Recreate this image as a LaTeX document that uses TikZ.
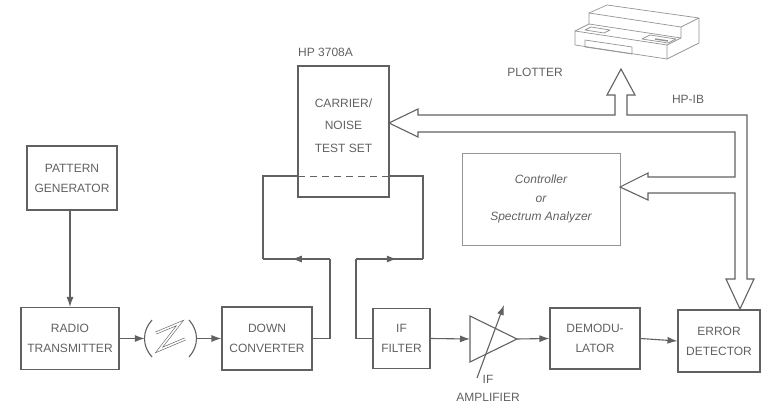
\documentclass[tikz,border=0pt]{standalone}
\usepackage{fontspec}
\setmainfont{Liberation Sans}
\usetikzlibrary{arrows.meta,decorations.markings}

\definecolor{ink}{gray}{0.38}
\definecolor{pale}{gray}{0.58}

\tikzset{
  box/.style={draw=ink, line width=1.1pt, inner sep=0pt, align=center,
    text=ink, font=\fontsize{12}{20}\selectfont},
  lbl/.style={text=ink, inner sep=0pt, align=center, font=\fontsize{12}{20}\selectfont},
  wire/.style={draw=ink, line width=1.1pt},
  sig/.style={wire, -{Latex[length=10pt,width=7pt]}},
  tipat/.style={postaction={decorate}, decoration={markings,
    mark=at position #1 with {\arrow{Latex[length=10pt,width=7pt]}}}},
}

\begin{document}
\begin{tikzpicture}[x=1pt, y=-1pt]
  \useasboundingbox (0,0) rectangle (761,406);

  % blocks
  \node[box, minimum width=90pt, minimum height=64pt] (pg) at (72,178) {PATTERN\\GENERATOR};
  \node[box, minimum width=98pt, minimum height=62pt] (rt) at (70,338.5) {RADIO\\TRANSMITTER};
  \node[minimum width=52pt, minimum height=36pt, inner sep=0pt] (ant) at (171,338.5) {};
  \node[box, minimum width=90pt, minimum height=63pt] (dc) at (267,338.5) {DOWN\\CONVERTER};
  \node[box, minimum width=57pt, minimum height=60pt] (iff) at (401.5,338.5) {IF\\FILTER};
  \node[box, minimum width=90pt, minimum height=61pt] (dem) at (595,338.5) {DEMODU-\\LATOR};
  \node[box, minimum width=82pt, minimum height=62pt] (ed) at (719,341) {ERROR\\DETECTOR};

  % carrier/noise test set
  \node[box, minimum width=91pt, minimum height=131pt] (cn) at (343.5,131.5) {};
  \node[lbl, font=\fontsize{12}{22.5}\selectfont] at (343.5,125.5) {CARRIER/\\NOISE\\TEST SET};
  \node[lbl, anchor=west] at (298,52) {HP 3708A};
  \coordinate (cnin) at (298,176);
  \coordinate (cnout) at (389,176);
  \draw[ink, line width=0.9pt, dash pattern=on 7pt off 5pt] (cnin) -- (cnout);

  % controller
  \node[draw=pale, line width=0.6pt, minimum width=158pt, minimum height=92pt,
    align=center, text=ink, font=\fontsize{12}{18.5}\selectfont\itshape] (ctl) at (541,199)
    {Controller\\or\\Spectrum Analyzer};

  % antenna hop
  \draw[wire] (152,320) .. controls (142,331) and (142,346) .. (152,357);
  \draw[wire] (189,320) .. controls (199,331) and (199,346) .. (189,357);
  \draw[draw=ink, line width=0.6pt, double=white, double distance=1.6pt, line join=miter]
    (156,333) -- (180,323) -- (159,350) -- (185,339);

  % IF amplifier
  \coordinate (ampin) at (470,339);
  \coordinate (ampout) at (517,339);
  \draw[wire, line join=miter] (470,316) -- (ampout) -- (470,362) -- cycle;
  \draw[sig] (477,378) -- (504,305);
  \node[lbl, font=\fontsize{12}{18}\selectfont] at (488,388) {IF\\AMPLIFIER};

  % signal path
  \draw[sig] (rt.north |- pg.south) -- (rt.north);
  \draw[sig] (rt.east) -- (ant.west);
  \draw[sig] (ant.east) -- (dc.west);
  \coordinate (la) at (330,259);
  \coordinate (lb) at (263,259);
  \coordinate (ra) at (423,259);
  \coordinate (rb) at (356,259);
  \draw[wire] (dc.east) -| (la);
  \draw[wire, tipat=0.57] (la) -- (lb);
  \draw[wire] (lb) |- (cnin);
  \draw[wire] (cnout) -| (ra);
  \draw[wire, tipat=0.61] (rb) -- (ra);
  \draw[wire] (rb) |- (iff.west);
  \draw[sig] (iff.east) -- (ampin);
  \draw[sig] (ampout) -- (dem.west);
  \draw[sig] (dem.east) -- (ed.west);

  % HP-IB bus
  \draw[wire, fill=white, line join=miter]
    (418,109) -- (418,115) -- (615,115) -- (615,95) -- (607,95) -- (621,69)
    -- (635,95) -- (627,95) -- (627,115) -- (747,115) -- (747,279) -- (754,279)
    -- (740,309) -- (726,279) -- (735,279) -- (735,193) -- (648,193) -- (648,200)
    -- (620,187) -- (648,173) -- (648,177) -- (735,177) -- (735,132) -- (418,132)
    -- (418,137) -- (389,123) -- cycle;
  \node[lbl] at (688,99) {HP-IB};

  % plotter
  \begin{scope}[draw=pale, line width=0.7pt, line join=round]
    \draw (575,31) -- (575,45) -- (667,59) -- (667,45) -- cycle;
    \draw (667,59) -- (699,43) -- (699,18);
    \draw (667,45) -- (681,38);
    \draw (575,31) -- (589,24) -- (681,38) -- (681,27) -- (589,13) -- (589,24);
    \draw (589,13) -- (607,5) -- (699,18) -- (681,27);
    \draw (585,40) -- (632,47) -- (632,54) -- (585,47) -- cycle;
    \draw (642,39) -- (668,43) -- (676,39) -- (650,35) -- cycle;
    \draw (585,30) -- (604,33) -- (610,30) -- (591,27) -- cycle;
    \draw[line width=1.4pt] (655,39) -- (668,41);
  \end{scope}
  \node[lbl] at (535,72) {PLOTTER};
\end{tikzpicture}
\end{document}
